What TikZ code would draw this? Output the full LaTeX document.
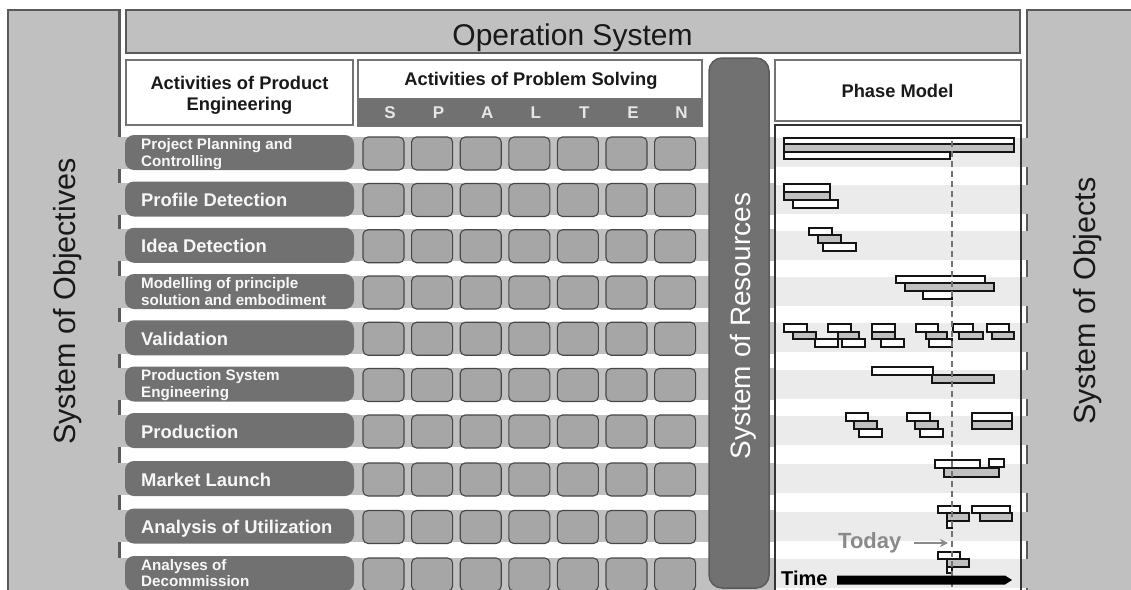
\documentclass[tikz,border=0pt]{standalone}
\usepackage{fontspec}
\setmainfont{Liberation Sans}
\usetikzlibrary{arrows.meta}
\definecolor{panel}{HTML}{C0C0C0}
\definecolor{darkbox}{HTML}{717171}
\definecolor{gridbox}{HTML}{A6A6A6}
\definecolor{edge}{HTML}{5A5A5A}
\definecolor{phaseband}{HTML}{EBEBEB}
\definecolor{bargray}{HTML}{C0C0C0}
\definecolor{todaygray}{HTML}{8A8A8A}
\definecolor{labeltext}{HTML}{F7F7F7}
\definecolor{lettertext}{HTML}{E6E6E6}
\newcommand\twol[3]{\vtop{\baselineskip=#1\hbox{#2}\hbox{#3}}}
\newcommand\twoc[3]{\vtop{\baselineskip=#1\halign{\hfil##\hfil\cr #2\cr #3\cr}}}
\tikzset{
  panelbox/.style={fill=panel, draw=edge, line width=2.5pt},
  headbox/.style={fill=white, draw=edge!85, line width=2pt},
  labelbox/.style={fill=darkbox, rounded corners=9pt},
  gbox/.style={fill=gridbox, draw=black!72, line width=1.1pt, rounded corners=5pt},
  wbar/.style={fill=white, draw=black!92, line width=2pt},
  gbar/.style={fill=bargray, draw=black!92, line width=2pt},
  headtext/.style={font=\fontsize{18.3}{21}\selectfont\bfseries, inner sep=0pt, anchor=base, text=black!90},
  lbl/.style={font=\fontsize{18.4}{21}\selectfont\bfseries, text=labeltext, inner sep=0pt, anchor=base west},
  slbl/.style={font=\fontsize{15.2}{16.5}\selectfont\bfseries, text=labeltext, inner sep=0pt, anchor=base west},
  letter/.style={font=\fontsize{17}{20}\selectfont\bfseries, text=lettertext, inner sep=0pt, anchor=base},
  systext/.style={font=\fontsize{30.5}{34}\selectfont, inner sep=0pt, anchor=base, rotate=90, text=black!90},
}
\begin{document}
\begin{tikzpicture}[x=1pt,y=-1pt]
\useasboundingbox (0,0) rectangle (1131,589);
\clip (0,0) rectangle (1131,589);

% side panels
\draw[panelbox] (8,10) rectangle (119.5,620);
\draw[panelbox] (1027,10) rectangle (1150,620);

% row bands
\foreach \c in {152.5,199,245.25,291.5,337.75,384,430.5,478.5,526,573.5} {
  \fill[panel] (116,\c-16) rectangle (775,\c+16);
  \fill[panel] (1019,\c-14.5) rectangle (1031,\c+14.5);
}

% operation system
\draw[panelbox] (126,10) rectangle (1020,53);
\node[font=\fontsize{30}{34}\selectfont, inner sep=0pt, anchor=base, text=black!90] (opsys) at (572.5,45) {Operation System};

% header boxes
\draw[headbox] (126,60) rectangle (353,125);
\node[headtext] (ape) at (239.5,89) {\twoc{21pt}{Activities of Product}{Engineering}};

\fill[white] (358,60) rectangle (702,126);
\fill[darkbox] (358,98) rectangle (702,126);
\draw[draw=edge!85, line width=2pt] (358,60) rectangle (702,126);
\node[headtext] (aps) at (531,85) {Activities of Problem Solving};
\foreach \l [count=\i from 0] in {S,P,A,L,T,E,N} {
  \node[letter] (let\i) at (390+48.6*\i,118) {\l};
}

\draw[headbox] (775,60) rectangle (1021,121);
\node[headtext] (pm) at (897.5,97) {Phase Model};

% system of resources
\draw[fill=darkbox, draw=edge, line width=1.5pt, rounded corners=13pt] (709,58) rectangle (769,588);
\node[systext, text=white, font=\fontsize{28}{32}\selectfont] (sor) at (750,326) {System of Resources};

% activity rows
\foreach \c in {152.5,199,245.25,291.5,337.75,384,430.5,478.5,526,573.5} {
  \fill[labelbox] (125,\c-17.5) rectangle (354,\c+17.5);
  \foreach \i in {0,...,6} {
    \draw[gbox] (363+48.6*\i,\c-15.5) rectangle (404+48.6*\i,\c+17.5);
  }
}
\node[slbl] (r1) at (141,149.5) {\twol{16.5pt}{Project Planning and}{Controlling}};
\node[lbl] (r2) at (141,206) {Profile Detection};
\node[lbl] (r3) at (141,252.25) {Idea Detection};
\node[slbl] (r4) at (141,288.5) {\twol{16.5pt}{Modelling of principle}{solution and embodiment}};
\node[lbl] (r5) at (141,345) {Validation};
\node[slbl] (r6) at (141,380.5) {\twol{16.5pt}{Production System}{Engineering}};
\node[lbl] (r7) at (141,438) {Production};
\node[lbl] (r8) at (141,486) {Market Launch};
\node[lbl] (r9) at (141,533) {Analysis of Utilization};
\node[slbl] (r10) at (141,570) {\twol{16.5pt}{Analyses of}{Decommission}};

% phase chart
\fill[white] (775,125) rectangle (1021,600);
\foreach \c in {152.5,199,245.25,291.5,337.75,384,430.5,478.5,526,573.5} {
  \fill[phaseband] (775,\c-14.5) rectangle (1021,\c+14.5);
}
\draw[draw=black!80, line width=1.5pt] (775,125) rectangle (1021,620);

% white bars
\foreach \xa/\ya/\xb/\yb in {
  784/138/1014/144, 784/152/950/159,
  784/184/830/192, 793/200/838/208,
  809/228/832/235, 823/243/856/251,
  896/276/985/283, 923/291/952/299,
  784/324/807/332, 815/339/838/347,
  828/324/851/332, 842/339/865/347,
  872/324/895/332, 881/339/904/347,
  916/324/938/332, 929/339/952/347,
  953/324/973/332, 987/324/1009/332,
  872/367/933/375,
  846/413/868/421, 859/429/882/437,
  907/413/930/421, 920/429/943/437,
  972/413/1012/421,
  935/460/980/468, 989/459/1004/467,
  938/506/960/513, 947/521/952/528, 972/506/1010/513,
  938/552/960/559, 947/567/952/573}
  \draw[wbar] (\xa,\ya) rectangle (\xb,\yb);
% gray bars
\foreach \xa/\ya/\xb/\yb in {
  784/144/1014/152,
  784/192/830/200,
  818/235/841/243,
  905/283/994/291,
  793/332/816/339, 838/332/859/339, 872/332/895/339,
  926/332/947/339, 959/332/983/339, 992/332/1014/339,
  932/375/994/383,
  854/421/877/429, 915/421/938/429, 972/421/1012/429,
  944/468/999/477,
  947/513/969/521, 980/513/1012/521,
  947/559/969/567}
  \draw[gbar] (\xa,\ya) rectangle (\xb,\yb);

% today line
\coordinate (todaytop) at (952,141);
\coordinate (todaybot) at (952,600);
\draw[black!55, line width=2.4pt, dash pattern=on 6pt off 4pt] (todaytop) -- (todaybot);

\node[font=\fontsize{22}{26}\selectfont\bfseries, text=todaygray, inner sep=0pt, anchor=base west] (today) at (838,548) {Today};
\coordinate (todaytip) at (948,543);
\draw[todaygray, line width=2.2pt, -{Stealth[length=8pt,width=8pt]}] (today.east |- todaytip) ++(12,0) -- (todaytip);

% time axis
\node[font=\fontsize{20}{24}\selectfont\bfseries, text=black, inner sep=0pt, anchor=base west] (time) at (781,585) {Time};
\coordinate (timestart) at (837,580);
\coordinate (timetip) at (1012,580);
\fill[black] (timestart) ++(0,-4.5) -- (1005,575.5) -- (timetip) -- (1005,584.5) -- (837,584.5) -- cycle;

% system texts
\node[systext] (soo) at (75,301.5) {System of Objectives};
\node[systext] (sob) at (1095,301) {System of Objects};
\end{tikzpicture}
\end{document}
